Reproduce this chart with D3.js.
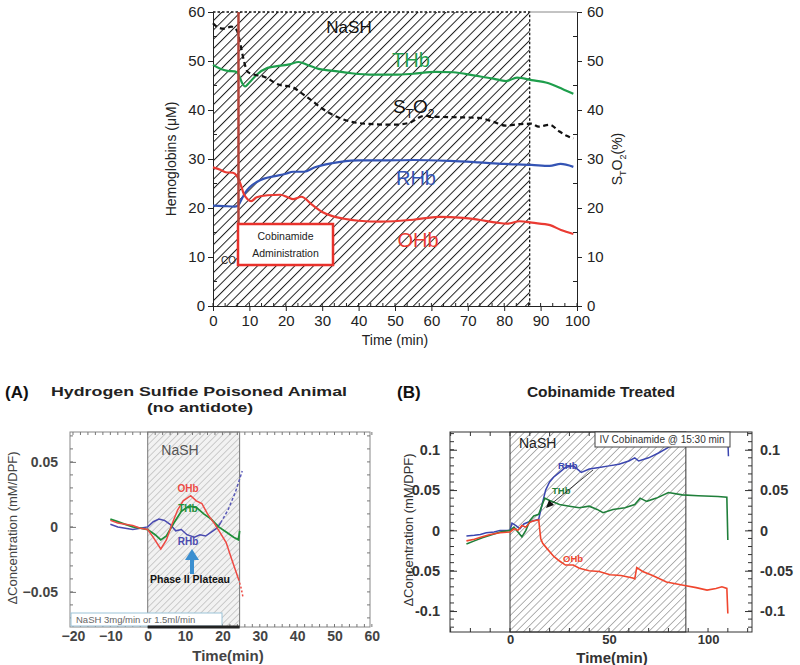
<!DOCTYPE html>
<html><head><meta charset="utf-8">
<script src="https://cdn.jsdelivr.net/npm/d3@7"></script>
<style>body{margin:0;background:#fff}svg{display:block}text{font-family:"Liberation Sans",Arial,sans-serif}</style>
</head><body>
<script>
// ---------- DATA ----------
// Top chart (time in min, hemoglobins in µM, StO2 in %)
const topTHb = [[0,49.2],[2,48.4],[4,48.0],[6,47.9],[7,47.3],[8,45.5],[8.8,44.8],[10,45.6],[12,47.2],[15,48.6],[18,49.0],[21,49.3],[23.5,49.8],[26,49.2],[29,48.4],[33,48.0],[38,47.5],[44,47.2],[50,47.2],[55,47.4],[61,47.8],[66,47.7],[72,47.0],[77,46.4],[80.5,45.9],[83.5,46.6],[87.5,46.1],[92,45.5],[96,44.3],[99,43.3]];
const topStO2 = [[0,57.7],[1.5,56.8],[3,56.6],[5,57.0],[6.5,56.3],[7.5,53.5],[8.5,50],[9.5,47.8],[11,47.3],[14,46.8],[18,45.2],[22,44.6],[24,43.6],[27,42.0],[30,40.3],[34,38.6],[38,37.6],[44,37.1],[50,37.0],[54,37.4],[58,38.8],[62,38.6],[68,38.5],[73,38.4],[77,37.6],[80.5,36.8],[84,37.1],[87.5,37.2],[89.5,36.6],[92.5,37.0],[95,35.7],[97,34.8],[99,34.2]];
const topRHb = [[0,20.5],[3,20.4],[6,20.3],[7,20.6],[8,22],[9,23.3],[10,24.2],[12,25.3],[14,26.0],[17,26.5],[20,27.0],[22,27.4],[25,27.4],[28,28.3],[31,28.9],[35,29.4],[40,29.7],[46,29.7],[55,29.8],[65,29.6],[73,29.3],[80,29.0],[87.5,28.8],[92.5,28.6],[95.5,29.0],[99,28.4]];
const topOHb = [[0,28.3],[2,27.8],[3.5,27.3],[5.5,27.2],[6.5,26.6],[7.5,25],[8.5,22.8],[9.5,21.8],[10.5,21.4],[12,22.2],[15,22.6],[18.5,22.7],[20.5,22.2],[22,21.8],[24.3,22.3],[27,20.8],[30,19.2],[33,18.3],[36,17.8],[40,17.4],[46,17.2],[55,17.6],[62,18.2],[68.7,18],[73,17.6],[78,17.0],[80.7,16.8],[84.3,17.3],[87.6,17],[92.6,16.5],[95.6,15.5],[99,14.7]];
const topTicksX = [0,10,20,30,40,50,60,70,80,90,100];
const topTicksY = [0,10,20,30,40,50,60];
const topNaSH = [0,87];
const topCobinamide = 7;

// Panel A (no antidote)
const aOHb = [[-10,0.005],[-8,0.003],[-6,0.002],[-4,0.001],[-2,-0.001],[0,-0.002],[1.5,-0.008],[3.5,-0.017],[5,-0.01],[6.5,0.002],[8,0.013],[9.5,0.02],[11.5,0.024],[13,0.02],[14.5,0.018],[16,0.01],[18,0.002],[19.5,-0.005],[21,-0.012],[22.5,-0.025],[24.3,-0.04]];
const aOHbTail = [[24.3,-0.04],[25,-0.047],[25.5,-0.054]];
const aTHb = [[-10,0.006],[-8,0.004],[-6,0.002],[-4,0.0],[-2,-0.001],[0,-0.002],[2,-0.006],[3.5,-0.01],[5,-0.007],[7,0.003],[9,0.012],[11,0.016],[13,0.015],[15,0.01],[17,0.006],[19,0.0],[21,-0.004],[23,-0.008],[24.3,-0.01],[24.6,-0.003]];
const aRHb = [[-10,0.002],[-8,0.0],[-6,-0.001],[-4,-0.002],[-2,-0.001],[0,0.0],[1.5,0.004],[3,0.006],[4.5,0.005],[6,0.002],[7.5,-0.003],[9,-0.002],[10.5,-0.006],[12.5,-0.008],[14,-0.006],[15.5,-0.007],[17,-0.004],[18.5,-0.001],[19.5,0.003]];
const aRHbTail = [[19.5,0.003],[21.5,0.013],[23.5,0.027],[25.3,0.043]];
const aTicksX = [-20,-10,0,10,20,30,40,50,60];
const aTicksY = [-0.05,0,0.05];
const aNaSH = [0,24.6];

// Panel B (cobinamide treated)
const bRHb = [[-22,-0.007],[-18,-0.006],[-15,-0.005],[-12,-0.003],[-8,-0.002],[-5,0.0],[-2,0.0],[0,0.0],[1,0.009],[3,0.006],[5,0.002],[7,0.008],[9,0.01],[12,0.012],[14.5,0.014],[16,0.03],[18,0.05],[20,0.06],[22,0.066],[25,0.072],[28,0.078],[32,0.08],[36,0.072],[40,0.076],[45,0.078],[50,0.08],[55,0.082],[60,0.086],[63,0.09],[65,0.086],[70,0.09],[75,0.096],[80,0.103],[85,0.11],[95,0.112],[110,0.113],[110.3,0.092]];
const bTHb = [[-22,-0.017],[-18,-0.013],[-14,-0.009],[-10,-0.006],[-5,-0.002],[0,0.0],[2,0.004],[4,-0.002],[6,-0.008],[8,0.0],[10,0.012],[12,0.018],[14.5,0.02],[16,0.03],[17.5,0.04],[20,0.037],[25,0.032],[30,0.03],[35,0.028],[40,0.03],[44,0.026],[47,0.022],[52,0.026],[58,0.028],[63,0.032],[65.7,0.04],[69,0.036],[74,0.04],[80,0.047],[87,0.044],[95,0.043],[105,0.042],[109.5,0.041],[110,-0.012]];
const bOHb = [[-22,-0.013],[-18,-0.011],[-14,-0.008],[-10,-0.005],[-5,-0.003],[0,-0.002],[2,0.002],[4,0.0],[6,0.006],[8,0.004],[10,0.01],[12,0.012],[14.5,0.013],[15.5,-0.01],[16.5,-0.016],[18.5,-0.022],[22,-0.032],[25,-0.038],[28,-0.043],[32,-0.043],[35,-0.047],[40,-0.05],[45,-0.051],[50.5,-0.055],[56,-0.056],[62,-0.059],[63,-0.06],[64,-0.046],[67,-0.051],[72,-0.056],[79,-0.064],[87.5,-0.068],[94,-0.071],[99.5,-0.074],[104,-0.072],[107,-0.07],[109.5,-0.072],[110,-0.103]];
const bTicksX = [0,50,100];
const bTicksY = [-0.1,-0.05,0,0.05,0.1];
const bNaSH = [0,88.8];

// ---------- DRAW ----------
const W = 800, H = 665;
const svg = d3.select("body").append("svg").attr("width", W).attr("height", H);
const defs = svg.append("defs");
function hatch(id, size, color, width, bg) {
  const p = defs.append("pattern").attr("id", id).attr("patternUnits", "userSpaceOnUse")
    .attr("width", size).attr("height", size).attr("patternTransform", "rotate(45)");
  if (bg) p.append("rect").attr("width", size).attr("height", size).attr("fill", bg);
  p.append("line").attr("x1", 0).attr("y1", 0).attr("x2", 0).attr("y2", size)
    .attr("stroke", color).attr("stroke-width", width);
}
hatch("hTop", 6.6, "#222", 2.0, "#fff");
hatch("hA", 4.6, "#aaa", 1.1, "#f2f2f2");
hatch("hB", 5.2, "#666", 1.0, "#fff");

// ===== Top chart =====
{
  const x = d3.scaleLinear().domain([0,100]).range([213,577]);
  const y = d3.scaleLinear().domain([0,60]).range([306,12]);
  const g = svg.append("g");
  g.append("rect").attr("x", x(topNaSH[0])).attr("y", y(60)).attr("width", x(topNaSH[1]) - x(topNaSH[0]))
    .attr("height", y(0) - y(60)).attr("fill", "url(#hTop)");
  g.append("path").attr("d", `M${x(0)},${y(60)}H${x(topNaSH[1])}V${y(0)}`)
    .attr("fill", "none").attr("stroke", "#111").attr("stroke-width", 1.3).attr("stroke-dasharray", "2.5,2");
  g.append("line").attr("x1", x(topNaSH[1])).attr("x2", x(100)).attr("y1", y(60)).attr("y2", y(60)).attr("stroke", "#888");
  const ax = fn => { const a = g.append("g").call(fn); a.select(".domain").attr("stroke", "#222"); return a; };
  const ticksXMinor = d3.range(0, 100.01, 10/3);
  g.append("g").selectAll("line").data(ticksXMinor).join("line")
    .attr("x1", d => x(d)).attr("x2", d => x(d)).attr("y1", y(0)).attr("y2", y(0) - 3).attr("stroke", "#222");
  g.append("g").selectAll("line").data(d3.range(5, 60, 10)).join("line")
    .attr("x1", x(0)).attr("x2", x(0) + 4).attr("y1", d => y(d)).attr("y2", d => y(d)).attr("stroke", "#222");
  g.append("g").selectAll("line").data(d3.range(5, 60, 10)).join("line")
    .attr("x1", x(100)).attr("x2", x(100) - 4).attr("y1", d => y(d)).attr("y2", d => y(d)).attr("stroke", "#222");
  const xa = ax(s => s.attr("transform", `translate(0,${y(0)})`).call(d3.axisBottom(x).tickValues(topTicksX).tickSize(5).tickPadding(4)));
  const yl = ax(s => s.attr("transform", `translate(${x(0)},0)`).call(d3.axisLeft(y).tickValues(topTicksY).tickSize(5).tickPadding(3)));
  const yr = ax(s => s.attr("transform", `translate(${x(100)},0)`).call(d3.axisRight(y).tickValues(topTicksY).tickSize(5).tickPadding(5)));
  [xa, yl, yr].forEach(a => { a.selectAll("text").attr("font-size", 15).attr("fill", "#222"); a.selectAll(".tick line").attr("stroke", "#222"); });
  const line = d3.line().x(d => x(d[0])).y(d => y(d[1])).curve(d3.curveMonotoneX);
  g.append("path").attr("d", line(topTHb)).attr("fill", "none").attr("stroke", "#1e9e4c").attr("stroke-width", 2.2);
  g.append("path").attr("d", line(topRHb)).attr("fill", "none").attr("stroke", "#3454b4").attr("stroke-width", 2.2);
  g.append("path").attr("d", line(topOHb)).attr("fill", "none").attr("stroke", "#ea3a32").attr("stroke-width", 2.2);
  g.append("path").attr("d", line(topStO2)).attr("fill", "none").attr("stroke", "#111").attr("stroke-width", 2.2).attr("stroke-dasharray", "5,3.5");
  g.append("line").attr("x1", x(topCobinamide)).attr("x2", x(topCobinamide)).attr("y1", y(60)).attr("y2", 224)
    .attr("stroke", "#b4443a").attr("stroke-width", 2.5);
  g.append("text").attr("x", 221).attr("y", 264).attr("font-size", 10).attr("fill", "#222").text("CO");
  g.append("rect").attr("x", 238).attr("y", 224).attr("width", 95).attr("height", 41).attr("fill", "#fff")
    .attr("stroke", "#e8312b").attr("stroke-width", 2.5);
  g.append("text").attr("x", 285.5).attr("y", 240).attr("text-anchor", "middle").attr("font-size", 10.5)
    .attr("font-family", "Open Sans").attr("fill", "#222").text("Cobinamide");
  g.append("text").attr("x", 285.5).attr("y", 257).attr("text-anchor", "middle").attr("font-size", 10.5)
    .attr("font-family", "Open Sans").attr("fill", "#222").text("Administration");
  g.append("text").attr("x", 349).attr("y", 33).attr("text-anchor", "middle").attr("font-size", 17).attr("fill", "#111").text("NaSH");
  g.append("text").attr("x", 411).attr("y", 67).attr("text-anchor", "middle").attr("font-size", 20).attr("fill", "#1e9e4c").text("THb");
  const st = g.append("text").attr("x", 393).attr("y", 113).attr("font-size", 19).attr("fill", "#111");
  st.append("tspan").text("S");
  st.append("tspan").attr("font-size", 12).attr("dy", 5).text("T");
  st.append("tspan").attr("dy", -5).text("O");
  st.append("tspan").attr("font-size", 12).attr("dy", 5).text("2");
  g.append("text").attr("x", 416).attr("y", 185).attr("text-anchor", "middle").attr("font-size", 20).attr("fill", "#3454b4").text("RHb");
  g.append("text").attr("x", 418).attr("y", 247).attr("text-anchor", "middle").attr("font-size", 20).attr("fill", "#ea3a32").text("OHb");
  g.append("text").attr("x", 395).attr("y", 345).attr("text-anchor", "middle").attr("font-size", 14).attr("fill", "#222").text("Time (min)");
  g.append("text").attr("transform", `translate(176,${y(30)}) rotate(-90)`).attr("text-anchor", "middle")
    .attr("font-size", 14).attr("fill", "#222").text("Hemoglobins (\u03BCM)");
  const rt = g.append("text").attr("transform", `translate(622,${y(30)}) rotate(-90)`).attr("text-anchor", "middle")
    .attr("font-size", 14).attr("fill", "#222");
  rt.append("tspan").text("S");
  rt.append("tspan").attr("font-size", 9).attr("dy", 4).text("T");
  rt.append("tspan").attr("dy", -4).text("O");
  rt.append("tspan").attr("font-size", 9).attr("dy", 4).text("2");
  rt.append("tspan").attr("dy", -4).text("(%)");
}

// ===== Panel A =====
{
  const x = d3.scaleLinear().domain([-20.8, 59.5]).range([70, 370]);
  const y = d3.scaleLinear().domain([-0.077, 0.073]).range([627, 432]);
  const g = svg.append("g");
  g.append("text").attr("x", 5).attr("y", 398).attr("font-size", 17).attr("font-weight", "bold").attr("fill", "#111").text("(A)");
  g.append("text").attr("x", 199).attr("y", 396).attr("text-anchor", "middle").attr("font-size", 13.5).attr("font-weight", "bold")
    .attr("textLength", 296).attr("lengthAdjust", "spacingAndGlyphs").attr("fill", "#222").text("Hydrogen Sulfide Poisoned Animal");
  g.append("text").attr("x", 200).attr("y", 412).attr("text-anchor", "middle").attr("font-size", 13.5).attr("font-weight", "bold")
    .attr("textLength", 106).attr("lengthAdjust", "spacingAndGlyphs").attr("fill", "#222").text("(no antidote)");
  g.append("rect").attr("x", x(aNaSH[0])).attr("y", y.range()[1]).attr("width", x(aNaSH[1]) - x(aNaSH[0]))
    .attr("height", y.range()[0] - y.range()[1]).attr("fill", "url(#hA)").attr("stroke", "#777");
  g.append("text").attr("x", 180).attr("y", 455).attr("text-anchor", "middle").attr("font-size", 14).attr("fill", "#555").text("NaSH");
  g.append("rect").attr("x", 70).attr("y", 432).attr("width", 300).attr("height", 195).attr("fill", "none").attr("stroke", "#888");
  const minorX = d3.range(-20, 60.01, 2);
  g.selectAll(".mxb").data(minorX).join("line").attr("x1", d => x(d)).attr("x2", d => x(d)).attr("y1", 627).attr("y2", 624).attr("stroke", "#777");
  g.selectAll(".mxt").data(minorX).join("line").attr("x1", d => x(d)).attr("x2", d => x(d)).attr("y1", 432).attr("y2", 435).attr("stroke", "#777");
  const minorY = d3.range(-0.07, 0.071, 0.01);
  g.selectAll(".myl").data(minorY).join("line").attr("x1", 70).attr("x2", 73).attr("y1", d => y(d)).attr("y2", d => y(d)).attr("stroke", "#777");
  g.selectAll(".myr").data(minorY).join("line").attr("x1", 370).attr("x2", 367).attr("y1", d => y(d)).attr("y2", d => y(d)).attr("stroke", "#777");
  const xa = g.append("g").attr("transform", "translate(0,627)").call(d3.axisBottom(x).tickValues(aTicksX).tickSize(0).tickPadding(4));
  const ya = g.append("g").attr("transform", "translate(70,0)").call(d3.axisLeft(y).tickValues(aTicksY).tickFormat(d => d === 0 ? "0" : d3.format(".2f")(d)).tickSize(-6).tickPadding(12));
  [xa, ya].forEach(a => { a.select(".domain").remove(); a.selectAll("text").attr("font-size", 14).attr("font-weight", "bold").attr("fill", "#444"); a.selectAll(".tick line").attr("stroke", "#777"); });
  g.append("rect").attr("x", 71).attr("y", 613).attr("width", 151).attr("height", 13).attr("fill", "#fff").attr("stroke", "#9cc3d8");
  g.append("text").attr("x", 76).attr("y", 623).attr("font-size", 9.5).attr("fill", "#666").text("NaSH 3mg/min  or 1.5ml/min");
  g.append("line").attr("x1", x(aNaSH[0])).attr("x2", x(aNaSH[1])).attr("y1", 627).attr("y2", 627).attr("stroke", "#222").attr("stroke-width", 3);
  const line = d3.line().x(d => x(d[0])).y(d => y(d[1]));
  g.append("path").attr("d", line(aRHb)).attr("fill", "none").attr("stroke", "#4a4ab0").attr("stroke-width", 1.5);
  g.append("path").attr("d", line(aRHbTail)).attr("fill", "none").attr("stroke", "#5a5ab8").attr("stroke-width", 1.5).attr("stroke-dasharray", "3,2");
  g.append("path").attr("d", line(aTHb)).attr("fill", "none").attr("stroke", "#1f8f3a").attr("stroke-width", 1.8);
  g.append("path").attr("d", line(aOHb)).attr("fill", "none").attr("stroke", "#ee4a44").attr("stroke-width", 1.5);
  g.append("path").attr("d", line(aOHbTail)).attr("fill", "none").attr("stroke", "#ee4a44").attr("stroke-width", 1.5).attr("stroke-dasharray", "2,2");
  g.append("text").attr("x", 188).attr("y", 492).attr("text-anchor", "middle").attr("font-size", 10).attr("font-weight", "bold").attr("fill", "#ee4a44").text("OHb");
  g.append("text").attr("x", 188).attr("y", 512).attr("text-anchor", "middle").attr("font-size", 10).attr("font-weight", "bold").attr("fill", "#1f8f3a").text("THb");
  g.append("text").attr("x", 188).attr("y", 545).attr("text-anchor", "middle").attr("font-size", 10).attr("font-weight", "bold").attr("fill", "#4a4ab0").text("RHb");
  g.append("line").attr("x1", 192).attr("x2", 192).attr("y1", 574).attr("y2", 558).attr("stroke", "#3b8fd0").attr("stroke-width", 4);
  g.append("path").attr("d", "M185,560 L192,549 L199,560 Z").attr("fill", "#3b8fd0");
  g.append("text").attr("x", 190).attr("y", 583).attr("text-anchor", "middle").attr("font-size", 10.5).attr("font-weight", "bold")
    .attr("font-family", "Open Sans").attr("fill", "#111").text("Phase II Plateau");
  g.append("text").attr("x", 228).attr("y", 661).attr("text-anchor", "middle").attr("font-size", 15).attr("font-weight", "bold").attr("fill", "#444").text("Time(min)");
  g.append("text").attr("transform", "translate(17,528) rotate(-90)").attr("text-anchor", "middle").attr("font-size", 13).attr("fill", "#444").text("\u0394Concentration (mM/DPF)");
}

// ===== Panel B =====
{
  const x = d3.scaleLinear().domain([-30.3, 122.2]).range([450, 752]);
  const y = d3.scaleLinear().domain([-0.126, 0.122]).range([632, 432]);
  const g = svg.append("g");
  g.append("text").attr("x", 397).attr("y", 398).attr("font-size", 17).attr("font-weight", "bold").attr("fill", "#111").text("(B)");
  g.append("text").attr("x", 601).attr("y", 397).attr("text-anchor", "middle").attr("font-size", 15.5).attr("font-weight", "bold").attr("fill", "#222").text("Cobinamide Treated");
  g.append("rect").attr("x", x(bNaSH[0])).attr("y", 432).attr("width", x(bNaSH[1]) - x(bNaSH[0])).attr("height", 200)
    .attr("fill", "url(#hB)").attr("stroke", "#333");
  g.append("rect").attr("x", 450).attr("y", 432).attr("width", 302).attr("height", 200).attr("fill", "none").attr("stroke", "#333");
  const minorX = d3.range(-30, 122, 10);
  g.selectAll(".mxb").data(minorX).join("line").attr("x1", d => x(d)).attr("x2", d => x(d)).attr("y1", 632).attr("y2", 628).attr("stroke", "#333");
  g.selectAll(".mxt").data(minorX).join("line").attr("x1", d => x(d)).attr("x2", d => x(d)).attr("y1", 432).attr("y2", 436).attr("stroke", "#333");
  const minorY = d3.range(-0.12, 0.121, 0.01);
  g.selectAll(".myl").data(minorY).join("line").attr("x1", 450).attr("x2", 454).attr("y1", d => y(d)).attr("y2", d => y(d)).attr("stroke", "#333");
  g.selectAll(".myr").data(minorY).join("line").attr("x1", 752).attr("x2", 748).attr("y1", d => y(d)).attr("y2", d => y(d)).attr("stroke", "#333");
  const fmt = d => d === 0 ? "0" : String(d);
  const xa = g.append("g").attr("transform", "translate(0,632)").call(d3.axisBottom(x).tickValues(bTicksX).tickSize(0).tickPadding(3));
  const yl = g.append("g").attr("transform", "translate(450,0)").call(d3.axisLeft(y).tickValues(bTicksY).tickFormat(fmt).tickSize(-7).tickPadding(10));
  const yr = g.append("g").attr("transform", "translate(752,0)").call(d3.axisRight(y).tickValues(bTicksY).tickFormat(fmt).tickSize(-7).tickPadding(8));
  [yl, yr].forEach(a => { a.select(".domain").remove(); a.selectAll("text").attr("font-size", 14.5).attr("font-weight", "bold").attr("fill", "#333"); a.selectAll(".tick line").attr("stroke", "#333"); });
  xa.select(".domain").remove(); xa.selectAll("text").attr("font-size", 13).attr("font-weight", "bold").attr("fill", "#333");
  const line = d3.line().x(d => x(d[0])).y(d => y(d[1]));
  g.append("path").attr("d", line(bRHb)).attr("fill", "none").attr("stroke", "#3b46b0").attr("stroke-width", 1.5);
  g.append("path").attr("d", line(bTHb)).attr("fill", "none").attr("stroke", "#1f7f3a").attr("stroke-width", 1.6);
  g.append("path").attr("d", line(bOHb)).attr("fill", "none").attr("stroke", "#f0462e").attr("stroke-width", 1.6);
  g.append("text").attr("x", 519).attr("y", 448).attr("font-size", 14).attr("fill", "#222").text("NaSH");
  g.append("rect").attr("x", 595).attr("y", 432).attr("width", 135).attr("height", 15).attr("fill", "#fff").attr("stroke", "#444");
  g.append("text").attr("x", 662).attr("y", 443).attr("text-anchor", "middle").attr("font-size", 10).attr("fill", "#333").text("IV Cobinamide @ 15:30 min");
  g.append("text").attr("x", 558).attr("y", 469).attr("font-size", 9.5).attr("font-weight", "bold").attr("fill", "#3b46b0").text("RHb");
  g.append("text").attr("x", 552).attr("y", 494).attr("font-size", 9.5).attr("font-weight", "bold").attr("fill", "#1f7f3a").text("THb");
  g.append("text").attr("x", 563).attr("y", 562).attr("font-size", 9.5).attr("font-weight", "bold").attr("fill", "#f0462e").text("OHb");
  g.append("line").attr("x1", 593).attr("y1", 470).attr("x2", 550).attr("y2", 505).attr("stroke", "#111").attr("stroke-width", 0.8);
  g.append("path").attr("d", "M546,508 L549,500 L554,505 Z").attr("fill", "#111");
  g.append("text").attr("x", 612).attr("y", 663).attr("text-anchor", "middle").attr("font-size", 15).attr("font-weight", "bold").attr("fill", "#333").text("Time(min)");
  g.append("text").attr("transform", "translate(413,530) rotate(-90)").attr("text-anchor", "middle").attr("font-size", 13).attr("fill", "#333").text("\u0394Concentration (mM/DPF)");
}
</script>
</body></html>
